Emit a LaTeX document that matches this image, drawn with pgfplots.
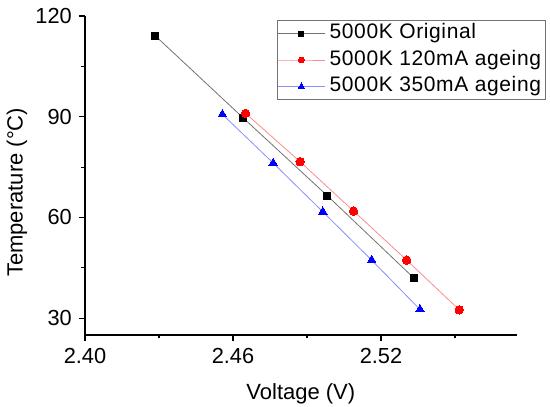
\documentclass[border=0pt]{standalone}
\usepackage{pgfplots}
\pgfplotsset{compat=1.18}
\usepackage{fontspec}
\setmainfont{Liberation Sans}
\begin{document}
\fontsize{21pt}{25pt}\selectfont
\begin{tikzpicture}
\path[use as bounding box] (-85pt,-72pt) rectangle (465pt,335pt);
\begin{axis}[
  at={(0pt,0pt)}, anchor=south west,
  width=431.7pt, height=319pt, scale only axis,
  xmin=2.40, xmax=2.575, ymin=25, ymax=120,
  axis x line*=bottom, axis y line*=left,
  axis line style={-, line width=1.2pt, black},
  xtick={2.40,2.46,2.52}, minor xtick={2.43,2.49,2.55},
  ytick={30,60,90,120}, minor ytick={45,75,105},
  tick align=outside,
  major tick length=6pt, minor tick length=3.5pt,
  every tick/.style={line width=1.2pt, black},
  x tick label style={/pgf/number format/.cd, fixed, fixed zerofill, precision=2},
  /pgf/number format/assume math mode=true,
  tick label style={font=\fontsize{21.8pt}{25pt}\selectfont},
  label style={font=\fontsize{22pt}{26pt}\selectfont},
  xlabel={Voltage (V)},
  ylabel={Temperature (°C)},
  xlabel style={at={(axis description cs:0.5,-0.2016)}, anchor=base},
  ylabel style={at={(axis description cs:-0.1575,0.447)}, anchor=center, rotate=0},
  clip=false,
  legend cell align=left,
  legend image code/.code={\draw[mark repeat=2,mark phase=2,every mark/.append style={scale=0.7}] plot coordinates {(0pt,0pt)(23.3pt,0pt)(46.6pt,0pt)};},
  legend style={at={(axis description cs:0.4455,0.987)}, anchor=north west,
    draw=black!55, line width=0.8pt, inner sep=0pt, row sep=0pt,
    font=\fontsize{21pt}{25pt}\selectfont\addfontfeatures{LetterSpace=3},
    nodes={text height=15pt, text depth=4.5pt, inner ysep=3.4pt, inner xsep=4.5pt}},
]
\addplot[color=black!55, line width=0.8pt, mark=square*, mark size=3.6pt,
  mark options={solid, fill=black, draw=black, line width=0pt}]
  coordinates {(2.4285,114.1) (2.4642,89.6) (2.4982,66.5) (2.5334,41.9)};
\addlegendentry{5000K Original}
\addplot[color=red!45, line width=0.8pt, mark=*, mark size=4.2pt,
  mark options={solid, fill=red, draw=red, line width=0pt}]
  coordinates {(2.4651,91.0) (2.4872,76.6) (2.5089,61.9) (2.5304,47.3) (2.5517,32.5)};
\addlegendentry{5000K 120mA ageing}
\addplot[color=blue!45, line width=0.8pt, mark=triangle*, mark size=5pt,
  mark options={solid, fill=blue, draw=blue, line width=0pt}]
  coordinates {(2.4557,90.7) (2.4763,76.2) (2.4964,61.7) (2.5162,47.3) (2.5358,32.6)};
\addlegendentry{5000K 350mA ageing}
\end{axis}
\end{tikzpicture}
\end{document}
